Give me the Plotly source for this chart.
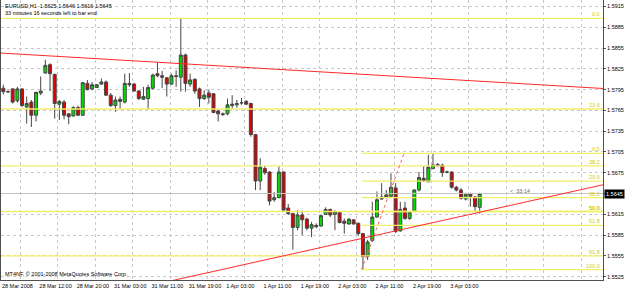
import plotly.graph_objects as go

symbol_title = "EURUSD,H1  1.5625 1.5646 1.5616 1.5645"
timer_text = "33 minutes 16 seconds left to bar end"
copyright_text = "MT4NF, \u00a9 2001-2008 MetaQuotes Software Corp."
bar_timer = "<  33:14"

opens = [
    1.5797, 1.5792, 1.5796, 1.5779, 1.5796, 1.5770, 1.5777, 1.5758, 1.5790, 1.5819,
    1.5831, 1.5817, 1.5774, 1.5777, 1.5760, 1.5757, 1.5769, 1.5758, 1.5804, 1.5796,
    1.5798, 1.5803, 1.5806, 1.5787, 1.5772, 1.5781, 1.5777, 1.5804, 1.5803, 1.5793,
    1.5781, 1.5782, 1.5797, 1.5818, 1.5815, 1.5812, 1.5803, 1.5815, 1.5813, 1.5845,
    1.5803, 1.5810, 1.5796, 1.5782, 1.5790, 1.5789, 1.5764, 1.5760, 1.5760, 1.5772,
    1.5773, 1.5776, 1.5778, 1.5775, 1.5730, 1.5663, 1.5681, 1.5676, 1.5636, 1.5639,
    1.5676, 1.5624, 1.5616, 1.5596, 1.5614, 1.5608, 1.5595, 1.5599, 1.5598, 1.5615,
    1.5622, 1.5615, 1.5618, 1.5605, 1.5601, 1.5607, 1.5602, 1.5587, 1.5554, 1.5577,
    1.5611, 1.5637, 1.5640, 1.5641, 1.5653, 1.5591, 1.5624, 1.5609, 1.5619, 1.5650,
    1.5667, 1.5662, 1.5681, 1.5687, 1.5686, 1.5676, 1.5676, 1.5654, 1.5650, 1.5637,
    1.5645, 1.5640, 1.5625]
highs = [
    1.5802, 1.5794, 1.5797, 1.5799, 1.5797, 1.5785, 1.5780, 1.5792, 1.5814, 1.5838,
    1.5833, 1.5818, 1.5780, 1.5780, 1.5761, 1.5771, 1.5772, 1.5806, 1.5809, 1.5806,
    1.5803, 1.5811, 1.5808, 1.5790, 1.5785, 1.5785, 1.5818, 1.5819, 1.5805, 1.5794,
    1.5799, 1.5802, 1.5818, 1.5834, 1.5822, 1.5813, 1.5818, 1.5823, 1.5898, 1.5847,
    1.5818, 1.5811, 1.5798, 1.5794, 1.5795, 1.5790, 1.5766, 1.5762, 1.5782, 1.5787,
    1.5780, 1.5783, 1.5780, 1.5776, 1.5731, 1.5696, 1.5685, 1.5677, 1.5647, 1.5684,
    1.5677, 1.5630, 1.5617, 1.5621, 1.5620, 1.5610, 1.5604, 1.5602, 1.5614, 1.5625,
    1.5623, 1.5621, 1.5619, 1.5609, 1.5609, 1.5608, 1.5603, 1.5588, 1.5578, 1.5633,
    1.5648, 1.5660, 1.5650, 1.5674, 1.5660, 1.5633, 1.5633, 1.5619, 1.5651, 1.5676,
    1.5684, 1.5701, 1.5702, 1.5689, 1.5688, 1.5678, 1.5677, 1.5656, 1.5653, 1.5646,
    1.5646, 1.5641, 1.5646]
lows = [
    1.5788, 1.5790, 1.5775, 1.5776, 1.5770, 1.5746, 1.5741, 1.5749, 1.5787, 1.5818,
    1.5793, 1.5753, 1.5751, 1.5752, 1.5745, 1.5756, 1.5757, 1.5757, 1.5794, 1.5794,
    1.5798, 1.5802, 1.5786, 1.5770, 1.5763, 1.5766, 1.5775, 1.5799, 1.5792, 1.5780,
    1.5780, 1.5766, 1.5795, 1.5813, 1.5797, 1.5785, 1.5802, 1.5799, 1.5792, 1.5792,
    1.5799, 1.5789, 1.5770, 1.5780, 1.5775, 1.5761, 1.5749, 1.5757, 1.5758, 1.5768,
    1.5769, 1.5773, 1.5773, 1.5727, 1.5650, 1.5650, 1.5672, 1.5628, 1.5633, 1.5638,
    1.5620, 1.5614, 1.5564, 1.5592, 1.5585, 1.5592, 1.5582, 1.5595, 1.5597, 1.5614,
    1.5611, 1.5592, 1.5602, 1.5587, 1.5600, 1.5600, 1.5584, 1.5535, 1.5549, 1.5575,
    1.5610, 1.5636, 1.5638, 1.5640, 1.5588, 1.5590, 1.5607, 1.5607, 1.5618, 1.5648,
    1.5662, 1.5661, 1.5680, 1.5684, 1.5669, 1.5674, 1.5652, 1.5648, 1.5636, 1.5635,
    1.5626, 1.5619, 1.5616]
closes = [
    1.5792, 1.5792, 1.5777, 1.5796, 1.5772, 1.5775, 1.5758, 1.5791, 1.5793, 1.5830,
    1.5818, 1.5775, 1.5778, 1.5758, 1.5756, 1.5769, 1.5758, 1.5805, 1.5795, 1.5802,
    1.5802, 1.5806, 1.5787, 1.5772, 1.5780, 1.5778, 1.5804, 1.5802, 1.5793, 1.5782,
    1.5785, 1.5798, 1.5816, 1.5815, 1.5813, 1.5803, 1.5815, 1.5814, 1.5845, 1.5804,
    1.5809, 1.5793, 1.5782, 1.5787, 1.5784, 1.5762, 1.5760, 1.5759, 1.5773, 1.5774,
    1.5775, 1.5776, 1.5774, 1.5730, 1.5663, 1.5683, 1.5675, 1.5634, 1.5639, 1.5676,
    1.5621, 1.5616, 1.5596, 1.5614, 1.5607, 1.5595, 1.5600, 1.5597, 1.5613, 1.5622,
    1.5614, 1.5619, 1.5603, 1.5602, 1.5608, 1.5601, 1.5587, 1.5554, 1.5575, 1.5611,
    1.5636, 1.5640, 1.5643, 1.5654, 1.5590, 1.5622, 1.5609, 1.5618, 1.5650, 1.5668,
    1.5663, 1.5683, 1.5686, 1.5685, 1.5675, 1.5676, 1.5654, 1.5650, 1.5638, 1.5644,
    1.5641, 1.5626, 1.5645]

time_labels = ["28 Mar 2008", "28 Mar 12:00", "28 Mar 20:00", "31 Mar 03:00",
               "31 Mar 11:00", "31 Mar 19:00", "1 Apr 03:00", "1 Apr 11:00",
               "1 Apr 19:00", "2 Apr 03:00", "2 Apr 11:00", "2 Apr 19:00",
               "3 Apr 03:00"]
price_ticks = [1.5525, 1.5555, 1.5585, 1.5615, 1.5645, 1.5675, 1.5705,
               1.5735, 1.5765, 1.5795, 1.5825, 1.5855, 1.5885, 1.5915]

bid_price = 1.5645

fib_big_levels = ["0.0", "23.6", "38.2", "50.0", "61.8"]
fib_big_prices = [1.5898, 1.5767, 1.5685, 1.5619, 1.5555]
fib_small_levels = ["0.0", "23.6", "38.2", "50.0", "61.8", "100.0"]
fib_small_prices = [1.5703, 1.5663, 1.5639, 1.5619, 1.5599, 1.5535]
fib_small_start = 76.7

trend_upper_x = [-1, 130]
trend_upper_y = [1.5848, 1.5796]
trend_lower_x = [36, 130]
trend_lower_y = [1.5519, 1.5660]
fib_trend_x = [76.7, 85.8]
fib_trend_y = [1.5535, 1.5703]

bars = list(range(len(opens)))
X_MIN, X_MAX = -0.5, 128.4
Y_MIN, Y_MAX = 1.55201, 1.59244

FONT = "Liberation Sans"
FIB_COLOR = "#f3ee6a"
FIB_TEXT = "#d8cc00"
RED = "#ff2a2a"

fig = go.Figure()

for p in fib_big_prices:
    fig.add_trace(go.Scatter(x=[X_MIN - 2, X_MAX + 2], y=[p, p], mode="lines",
                             line=dict(color=FIB_COLOR, width=1.3),
                             hoverinfo="skip", showlegend=False))
for p in fib_small_prices:
    fig.add_trace(go.Scatter(x=[fib_small_start, X_MAX + 2], y=[p, p], mode="lines",
                             line=dict(color=FIB_COLOR, width=1.3),
                             hoverinfo="skip", showlegend=False))
fig.add_trace(go.Scatter(x=[X_MIN - 2, X_MAX + 2], y=[bid_price, bid_price], mode="lines",
                         line=dict(color="#c4c4c4", width=1),
                         hoverinfo="skip", showlegend=False))

fig.add_trace(go.Candlestick(
    x=bars, open=opens, high=highs, low=lows, close=closes,
    increasing=dict(fillcolor="#00dc00", line=dict(color="#454545", width=1)),
    decreasing=dict(fillcolor="#dc0000", line=dict(color="#454545", width=1)),
    whiskerwidth=0, showlegend=False, hoverinfo="skip"))

fig.add_trace(go.Scatter(x=trend_upper_x, y=trend_upper_y, mode="lines",
                         line=dict(color=RED, width=1), hoverinfo="skip", showlegend=False))
fig.add_trace(go.Scatter(x=trend_lower_x, y=trend_lower_y, mode="lines",
                         line=dict(color=RED, width=1), hoverinfo="skip", showlegend=False))
fig.add_trace(go.Scatter(x=fib_trend_x, y=fib_trend_y, mode="lines",
                         line=dict(color="#f06060", width=1, dash="dot"),
                         hoverinfo="skip", showlegend=False))

annotations = []
for lab, p in list(zip(fib_big_levels, fib_big_prices)) + list(zip(fib_small_levels, fib_small_prices)):
    annotations.append(dict(x=1, xref="paper", y=p, yref="y", text=lab, showarrow=False,
                            xanchor="right", yanchor="bottom", xshift=-1, yshift=-1,
                            font=dict(family=FONT, size=5.5, color=FIB_TEXT)))
annotations += [
    dict(x=0.003, xref="paper", y=0.980, yref="paper", text=symbol_title, showarrow=False,
         xanchor="left", yanchor="middle", font=dict(family=FONT, size=5.5, color="#000000")),
    dict(x=0.003, xref="paper", y=0.955, yref="paper", text=timer_text, showarrow=False,
         xanchor="left", yanchor="middle", font=dict(family=FONT, size=5.5, color="#000000")),
    dict(x=0.003, xref="paper", y=0.022, yref="paper", text=copyright_text, showarrow=False,
         xanchor="left", yanchor="middle", font=dict(family=FONT, size=5.5, color="#000000")),
    dict(x=108, xref="x", y=1.5648, yref="y", text=bar_timer, showarrow=False,
         xanchor="left", yanchor="middle", font=dict(family=FONT, size=5.5, color="#707070")),
    dict(x=1, xref="paper", y=bid_price, yref="y", text="1.5645", showarrow=False,
         xanchor="left", yanchor="middle", bgcolor="#000000", borderpad=1, xshift=1,
         font=dict(family=FONT, size=5.5, color="#ffffff")),
]

fig.update_layout(
    width=625, height=290,
    margin=dict(l=1, r=22, t=0, b=10),
    paper_bgcolor="white", plot_bgcolor="white",
    boxgap=0.2, boxgroupgap=0.2,
    annotations=annotations,
    font=dict(family=FONT, size=5.5, color="#000000"),
    xaxis=dict(
        range=[X_MIN, X_MAX], rangeslider=dict(visible=False),
        tickmode="array", tickvals=[8 * i - 0.4 for i in range(len(time_labels))],
        ticktext=time_labels, ticklabelposition="outside right", tickangle=0,
        ticks="", ticklen=0, showgrid=False, zeroline=False,
        showline=True, linecolor="#505050", linewidth=1,
        tickfont=dict(family=FONT, size=5.5, color="#000000"),
        minor=dict(tickmode="linear", tick0=3.7, dtick=8, showgrid=True,
                   gridcolor="#c8c8c8", griddash="dot", gridwidth=1, ticks=""),
        automargin=False, fixedrange=True,
    ),
    yaxis=dict(
        range=[Y_MIN, Y_MAX], side="right",
        tickmode="array", tickvals=price_ticks, ticktext=[f"{v:.4f}" for v in price_ticks],
        ticks="outside", ticklen=2, tickcolor="#505050",
        showgrid=True, gridcolor="#c8c8c8", griddash="dot", gridwidth=1,
        zeroline=False, showline=True, linecolor="#505050", linewidth=1, mirror=True,
        tickfont=dict(family=FONT, size=5.5, color="#000000"),
        automargin=False, fixedrange=True,
    ),
)

fig.write_html("out.html")
